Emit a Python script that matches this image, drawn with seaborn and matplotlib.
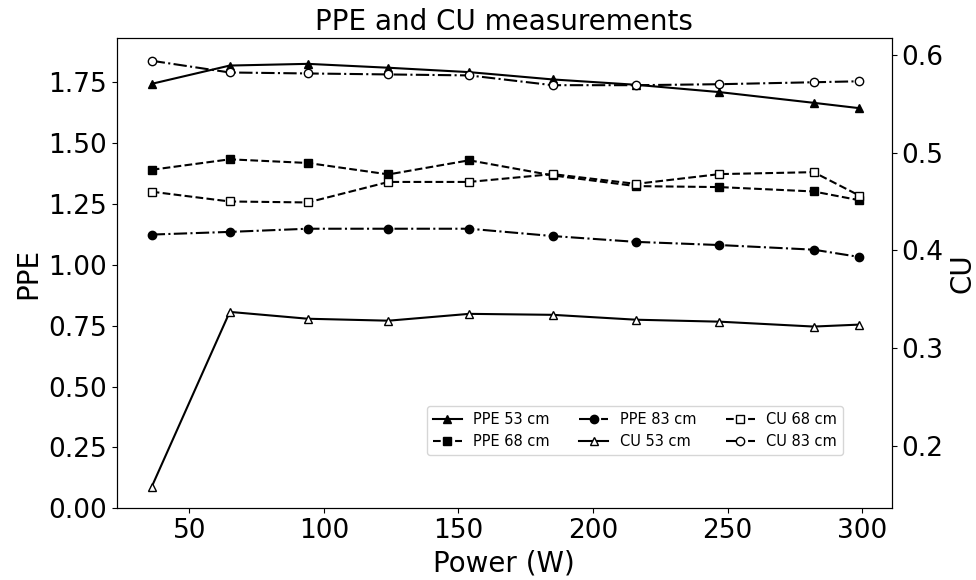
import matplotlib
matplotlib.use("Agg")
import matplotlib.pyplot as plt
import seaborn as sns
import numpy as np

power = [36, 65, 94, 124, 154, 185, 216, 247, 282, 299]
ppe_53 = [1.743, 1.818, 1.825, 1.809, 1.791, 1.761, 1.739, 1.709, 1.665, 1.643]
ppe_68 = [1.390, 1.433, 1.418, 1.371, 1.429, 1.367, 1.323, 1.319, 1.301, 1.265]
ppe_83 = [1.124, 1.135, 1.148, 1.148, 1.148, 1.118, 1.094, 1.081, 1.062, 1.032]
cu_53 = [0.158, 0.337, 0.330, 0.328, 0.335, 0.334, 0.329, 0.327, 0.322, 0.324]
cu_68 = [0.460, 0.450, 0.449, 0.470, 0.470, 0.478, 0.468, 0.478, 0.480, 0.456]
cu_83 = [0.594, 0.582, 0.581, 0.580, 0.579, 0.569, 0.569, 0.570, 0.572, 0.573]

plt.rcParams['font.family'] = ['DejaVu Sans']
fig = plt.figure(figsize=(9.76, 5.8), dpi=100)
ax = fig.add_axes([0.1196, 0.1236, 0.794, 0.8104])
ax2 = ax.twinx()

common = dict(color='black', markeredgecolor='black', markeredgewidth=1.0,
              markersize=6, linewidth=1.5, legend=False)

series_left = [
    (ppe_53, 'PPE 53 cm', '^', '-', 'black'),
    (ppe_68, 'PPE 68 cm', 's', '--', 'black'),
    (ppe_83, 'PPE 83 cm', 'o', '-.', 'black'),
]
series_right = [
    (cu_53, 'CU 53 cm', '^', '-', 'white'),
    (cu_68, 'CU 68 cm', 's', '--', 'white'),
    (cu_83, 'CU 83 cm', 'o', '-.', 'white'),
]

for vals, lab, mk, ls, fc in series_left:
    sns.lineplot(x=power, y=vals, ax=ax, marker=mk, linestyle=ls,
                 markerfacecolor=fc, label=lab, **common)
for vals, lab, mk, ls, fc in series_right:
    sns.lineplot(x=power, y=vals, ax=ax2, marker=mk, linestyle=ls,
                 markerfacecolor=fc, label=lab, **common)

for a in (ax, ax2):
    lg = a.get_legend()
    if lg is not None:
        lg.remove()

ax.set_xlim(23, 311)
ax.set_ylim(0, 1.93)
ax2.set_ylim(0.136, 0.617)
ax.set_yticks([0, 0.25, 0.5, 0.75, 1.0, 1.25, 1.5, 1.75])
ax.set_yticklabels(['0.00', '0.25', '0.50', '0.75', '1.00', '1.25', '1.50', '1.75'])
ax2.set_yticks([0.2, 0.3, 0.4, 0.5, 0.6])
ax.set_xticks([50, 100, 150, 200, 250, 300])

ax.tick_params(labelsize=19)
ax2.tick_params(labelsize=19)
ax.set_xlabel('Power (W)', fontsize=20)
ax.set_ylabel('PPE', fontsize=20)
ax2.set_ylabel('CU', fontsize=20)
ax.set_title('PPE and CU measurements', fontsize=20)

h1, l1 = ax.get_legend_handles_labels()
h2, l2 = ax2.get_legend_handles_labels()
ax2.legend(h1 + h2, l1 + l2, ncol=3, fontsize=10.5, loc='lower left',
           bbox_to_anchor=(0.40, 0.113), borderaxespad=0)

fig.savefig('out.png', dpi=100)
